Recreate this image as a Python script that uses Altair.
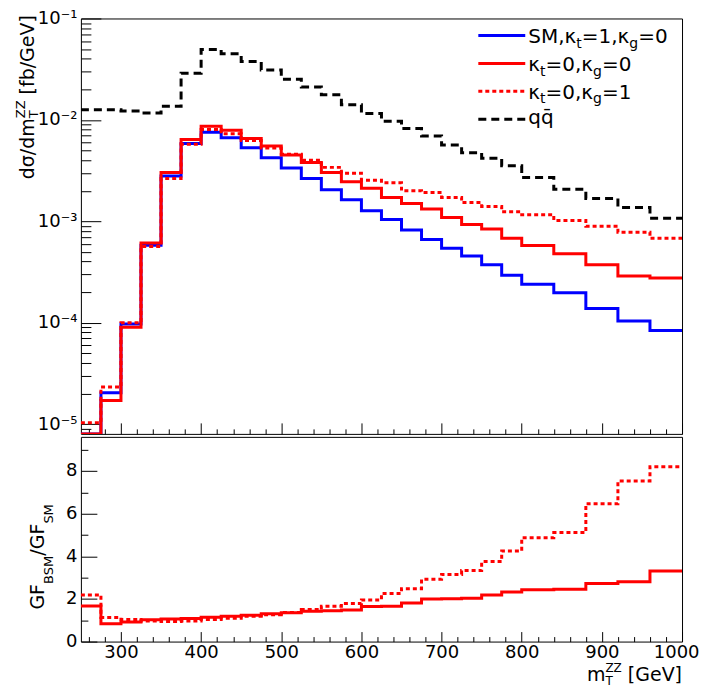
import altair as alt
import pandas as pd

# ---------------- data ----------------
edges = [250, 275, 300, 325, 350, 375, 400, 425, 450, 475, 500, 525, 550, 575,
         600, 625, 650, 675, 700, 725, 750, 775, 800, 840, 880, 920, 960, 1000]

sm_kt1_kg0 = [4.7e-6, 2.03e-5, 9.7e-5, 5.8e-4, 2.80e-3, 5.86e-3, 7.57e-3, 6.67e-3,
              5.31e-3, 4.24e-3, 3.36e-3, 2.64e-3, 2.05e-3, 1.63e-3, 1.27e-3, 1.04e-3,
              8.22e-4, 6.61e-4, 5.43e-4, 4.54e-4, 3.73e-4, 2.93e-4, 2.39e-4, 1.97e-4,
              1.38e-4, 1.04e-4, 8.35e-5]
kt0_kg0 = [7.9e-6, 1.71e-5, 9.0e-5, 6.1e-4, 3.02e-3, 6.41e-3, 8.67e-3, 7.92e-3,
           6.56e-3, 5.52e-3, 4.51e-3, 3.79e-3, 3.02e-3, 2.45e-3, 2.12e-3, 1.72e-3,
           1.50e-3, 1.32e-3, 1.09e-3, 9.27e-4, 8.41e-4, 6.81e-4, 5.78e-4, 4.78e-4,
           3.73e-4, 2.89e-4, 2.76e-4]
kt0_kg1 = [1.03e-5, 2.32e-5, 1.0e-4, 5.65e-4, 2.64e-3, 5.75e-3, 8.04e-3, 7.29e-3,
           6.27e-3, 5.27e-3, 4.57e-3, 3.99e-3, 3.40e-3, 2.98e-3, 2.54e-3, 2.40e-3,
           2.00e-3, 1.92e-3, 1.72e-3, 1.53e-3, 1.40e-3, 1.24e-3, 1.16e-3, 1.02e-3,
           8.94e-4, 7.80e-4, 6.81e-4]
qqbar = [0.0126, 0.0126, 0.01225, 0.0117, 0.0136, 0.0289, 0.0495, 0.0450,
         0.0376, 0.0311, 0.0252, 0.0211, 0.0177, 0.0141, 0.01153, 0.0097,
         0.00822, 0.00692, 0.00565, 0.00475, 0.00418, 0.00352, 0.00270, 0.00207,
         0.00168, 0.00137, 0.00107]
ratio_kt0_kg0 = [1.67, 0.84, 0.92, 1.02, 1.06, 1.08, 1.14, 1.19, 1.24, 1.30, 1.35,
                 1.42, 1.45, 1.48, 1.65, 1.66, 1.81, 2.00, 2.01, 2.03, 2.19, 2.33,
                 2.43, 2.45, 2.72, 2.80, 3.31]
ratio_kt0_kg1 = [2.19, 1.13, 1.04, 0.97, 0.94, 0.97, 1.04, 1.09, 1.19, 1.26, 1.36,
                 1.51, 1.66, 1.78, 1.95, 2.26, 2.48, 2.92, 3.15, 3.33, 3.75, 4.25,
                 4.87, 5.11, 6.46, 7.53, 8.20]

x_major = [300, 400, 500, 600, 700, 800, 900, 1000]
x_minor = [260, 280, 320, 340, 360, 380, 420, 440, 460, 480, 520, 540, 560, 580,
           620, 640, 660, 680, 720, 740, 760, 780, 820, 840, 860, 880, 920, 940,
           960, 980]
y_top_major = [1e-5, 1e-4, 1e-3, 1e-2, 1e-1]
y_top_minor = [9e-6,
               2e-5, 3e-5, 4e-5, 5e-5, 6e-5, 7e-5, 8e-5, 9e-5,
               2e-4, 3e-4, 4e-4, 5e-4, 6e-4, 7e-4, 8e-4, 9e-4,
               2e-3, 3e-3, 4e-3, 5e-3, 6e-3, 7e-3, 8e-3, 9e-3,
               2e-2, 3e-2, 4e-2, 5e-2, 6e-2, 7e-2, 8e-2, 9e-2]
y_bot_major = [0, 2, 4, 6, 8]
y_bot_minor = [1, 3, 5, 7, 9]

# ---------------- styling / layout ----------------
FONT = "DejaVu Sans"
W, H1, H2 = 602, 416, 205
BLUE, RED, BLACK = "#0000ff", "#ff0000", "#000000"

xscale = alt.Scale(domain=[250, 1000], nice=False, zero=False)
y1scale = alt.Scale(type="log", domain=[8e-6, 0.1], nice=False, clamp=True)
y2scale = alt.Scale(domain=[0, 9.6], nice=False, zero=False)

ADV = {" ": 0.318, ",": 0.318, "/": 0.337, "=": 0.838, "[": 0.390, "]": 0.390,
       "B": 0.686, "F": 0.575, "G": 0.776, "M": 0.863, "S": 0.635, "T": 0.611,
       "V": 0.684, "Z": 0.685, "b": 0.635, "d": 0.635, "e": 0.615, "f": 0.352,
       "g": 0.635, "m": 0.974, "q": 0.635, "t": 0.392, "\u03c3": 0.635,
       "\u03ba": 0.59, "\u0304": 0.0}
for _c in "0123456789":
    ADV[_c] = 0.636


def text_width(s, size):
    return sum(ADV.get(c, 0.6) for c in s) * size


def one():
    return pd.DataFrame({"k": [0]})


def step_frame(vals):
    return pd.DataFrame({"m": edges, "v": list(vals) + [vals[-1]]})


def hist(vals, color, yscale, dash=None):
    kw = dict(interpolate="step-after", color=color, strokeWidth=3, clip=True)
    if dash:
        kw["strokeDash"] = dash
    return alt.Chart(step_frame(vals)).mark_line(**kw).encode(
        x=alt.X("m:Q", scale=xscale, axis=None),
        y=alt.Y("v:Q", scale=yscale, axis=None),
    )


COMMON = dict(domain=False, grid=False, title=None, tickColor="black", tickWidth=1,
              labelFont=FONT, labelFontSize=18, labelColor="black")


def axis_layer(yscale, probe, xa, ya):
    return alt.Chart(pd.DataFrame({"m": [600], "v": [probe]})).mark_point(opacity=0).encode(
        x=alt.X("m:Q", scale=xscale, axis=alt.Axis(**dict(COMMON, orient="bottom", **xa))),
        y=alt.Y("v:Q", scale=yscale, axis=alt.Axis(**dict(COMMON, orient="left", **ya))),
    )


def label(s, x, y, size, angle=None):
    kw = dict(text=s, font=FONT, fontSize=size, align="left", baseline="alphabetic",
              color="black")
    if angle is not None:
        kw["angle"] = angle
    return alt.Chart(one()).mark_text(**kw).encode(x=alt.value(x), y=alt.value(y))


def rich(parts, x, y, main=19, small=13, sub=5, sup=9, vertical=False):
    """parts: (text, kind); kind n = normal, sub, sup, sub0 = subscript without advance,
    gap = blank advance of the given text."""
    out = []
    pos = 0.0
    for s, kind in parts:
        size = main if kind in ("n", "gap") else small
        if kind != "gap":
            shift = 0
            if kind in ("sub", "sub0"):
                shift = sub
            if kind == "sup":
                shift = -sup
            if vertical:
                out.append(label(s, x + shift, y - pos, size, angle=270))
            else:
                out.append(label(s, x + pos, y + shift, size))
        if kind != "sub0":
            pos += text_width(s, size)
    return out


def rich_width(parts, main=19, small=13):
    return sum(text_width(s, main if k in ("n", "gap") else small)
               for s, k in parts if k != "sub0")


def leg_line(y, color, dash=None):
    kw = dict(color=color, strokeWidth=3)
    if dash:
        kw["strokeDash"] = dash
    return alt.Chart(one()).mark_rule(**kw).encode(
        x=alt.value(398), x2=alt.value(445), y=alt.value(y))


def extent_helper():
    return alt.Chart(one()).mark_rule(opacity=0).encode(
        x=alt.value(-72), y=alt.value(2), y2=alt.value(3))


log_labels = ("datum.value > 0.05 ? '10\u207b\u00b9' : datum.value > 0.005 ? '10\u207b\u00b2' : "
              "datum.value > 0.0005 ? '10\u207b\u00b3' : datum.value > 0.00005 ? '10\u207b\u2074' : "
              "'10\u207b\u2075'")

# ---------------- top panel ----------------
top_layers = [
    hist(sm_kt1_kg0, BLUE, y1scale),
    hist(kt0_kg1, RED, y1scale, [4, 3]),
    hist(kt0_kg0, RED, y1scale),
    hist(qqbar, BLACK, y1scale, [8, 5]),
    axis_layer(y1scale, 1e-3,
               dict(values=x_major, tickSize=11, offset=-11, labels=False),
               dict(values=y_top_major, tickSize=20, offset=-20, labelPadding=4,
                    labelExpr=log_labels)),
    axis_layer(y1scale, 1e-3,
               dict(values=x_minor, tickSize=5, offset=-5, labels=False),
               dict(values=y_top_minor, tickSize=10, offset=-10, labels=False)),
    leg_line(17, BLUE),
    leg_line(45, RED),
    leg_line(73, RED, [4, 3]),
    leg_line(101, BLACK, [8, 5]),
    extent_helper(),
]
LEG = dict(main=20, small=14, sub=4.5)
top_layers += rich([("SM,\u03ba", "n"), ("t", "sub"), ("=1,\u03ba", "n"), ("g", "sub"), ("=0", "n")],
                   448, 25, **LEG)
top_layers += rich([("\u03ba", "n"), ("t", "sub"), ("=0,\u03ba", "n"), ("g", "sub"), ("=0", "n")],
                   448, 53, **LEG)
top_layers += rich([("\u03ba", "n"), ("t", "sub"), ("=0,\u03ba", "n"), ("g", "sub"), ("=1", "n")],
                   448, 80.5, **LEG)
top_layers += rich([("qq\u0304", "n")], 448, 106, **LEG)
top_layers += rich([("d\u03c3/dm", "n"), ("T", "sub0"), ("ZZ", "sup"), (" ", "gap"),
                    ("[fb/GeV]", "n")],
                   -47, 161, sub=4, sup=9, vertical=True)

top = alt.layer(*top_layers).resolve_scale(x="shared", y="shared").resolve_axis(
    x="independent", y="independent").properties(width=W, height=H1)

# ---------------- ratio panel ----------------
xt_parts = [("m", "n"), ("T", "sub0"), ("ZZ", "sup"), (" ", "gap"), ("[GeV]", "n")]
bot_layers = [
    hist(ratio_kt0_kg1, RED, y2scale, [4, 3]),
    hist(ratio_kt0_kg0, RED, y2scale),
    axis_layer(y2scale, 1,
               dict(values=x_major, tickSize=10, offset=-10, labelPadding=2, format="d",
                    labelFlush=True, labelFlushOffset=17, labelOverlap=False),
               dict(values=y_bot_major, tickSize=16, offset=-16, labelPadding=4)),
    axis_layer(y2scale, 1,
               dict(values=x_minor, tickSize=5, offset=-5, labels=False),
               dict(values=y_bot_minor, tickSize=7, offset=-7, labels=False)),
    extent_helper(),
]
bot_layers += rich([("GF", "n"), ("BSM", "sub"), ("/GF", "n"), ("SM", "sub")],
                   -37, 173, sub=9, vertical=True)
bot_layers += rich(xt_parts, W - rich_width(xt_parts, small=12), 244, small=12,
                   sub=4.5, sup=8.5)

bottom = alt.layer(*bot_layers).resolve_scale(x="shared", y="shared").resolve_axis(
    x="independent", y="independent").properties(width=W, height=H2)

chart = alt.vconcat(top, bottom, spacing=1).properties(padding=0).configure_view(
    stroke="black", strokeWidth=1)

chart.save("out.html", embed_options={"renderer": "svg", "actions": False})
